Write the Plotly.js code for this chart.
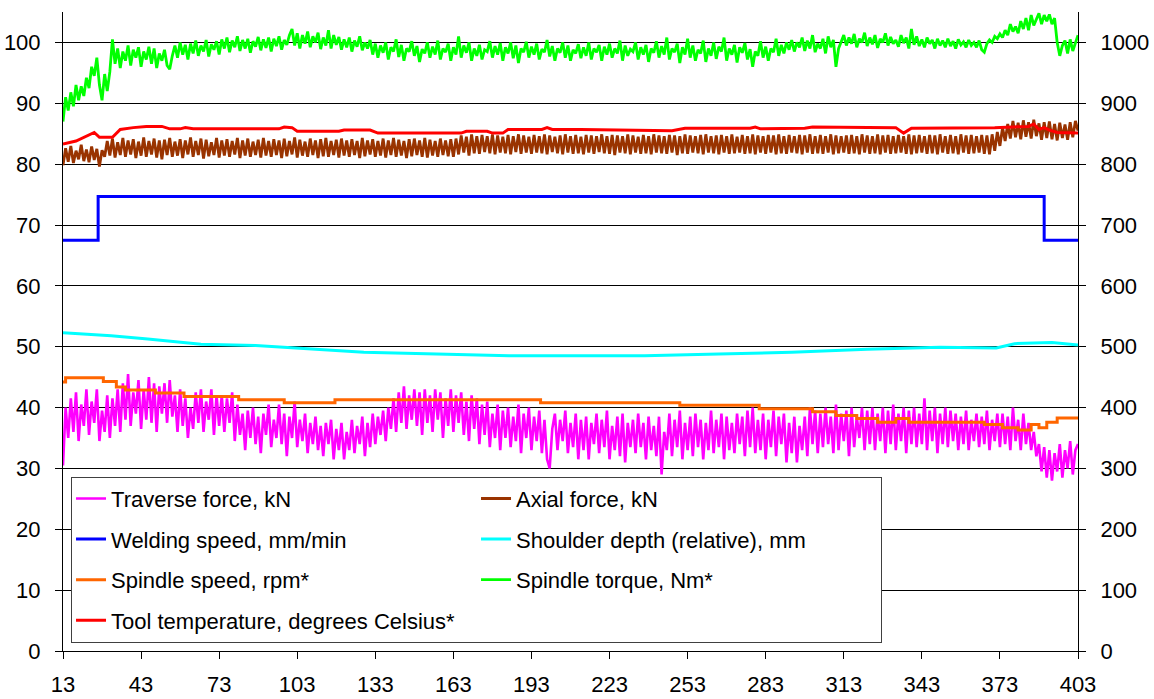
<!DOCTYPE html>
<html>
<head>
<meta charset="utf-8">
<script src="https://cdn.plot.ly/plotly-3.0.1.min.js"></script>
<style>html,body{margin:0;padding:0;background:#fff;}#chart{width:1154px;height:699px;}</style>
</head>
<body>
<div id="chart"></div>
<script>
// Category axis ticks (seconds)
const xTicks = [13, 43, 73, 103, 133, 163, 193, 223, 253, 283, 313, 343, 373, 403];

// Noisy series are sampled every 1 s from 13 to 403
const noisyStart = 13, noisyStep = 1;

// Traverse force, kN (left axis)
const traverseForce = [
  30.5, 40, 35, 41.5, 36, 42.5, 34.5, 40.5, 37, 43,
  35.5, 41, 37.5, 43, 34.5, 39.5, 36, 42, 35, 41.5,
  37, 43, 36, 44, 38, 45.5, 37, 42.5, 39, 44.5,
  36.5, 43, 38, 45, 37.5, 44, 36, 43.5, 39, 44,
  37.5, 44.5, 38.5, 42, 36, 43, 37, 41.5, 35, 40,
  36.5, 42.5, 37.5, 43, 36, 41, 38, 43, 35.5, 42,
  37, 42, 36, 41.5, 37.5, 42.5, 34.5, 40.5, 35.5, 39,
  33, 39.5, 35, 40, 34, 38.5, 32.5, 39, 35.5, 40.5,
  33.5, 38, 35, 40.5, 34, 39, 32, 38.5, 35, 41,
  33.5, 38, 34.5, 39, 32.5, 37.5, 34, 38.5, 33, 37,
  32, 37.5, 34, 38, 31.5, 36.5, 33, 37.5, 31.5, 36,
  33, 38, 32.5, 37, 34, 38.5, 32, 37.5, 33.5, 39,
  34, 38.5, 35.5, 39.5, 34.5, 40, 36.5, 41.5, 36, 42.5,
  37.5, 43.5, 36.5, 42, 38, 43, 37, 42.5, 35.5, 43,
  37.5, 42, 36, 43, 38, 42.5, 35, 41.5, 37, 43,
  36, 42, 37.5, 42.5, 35.5, 41, 34.5, 42, 36.5, 41.5,
  34, 40.5, 35.5, 41, 33.5, 39, 35, 40.5, 33, 39.5,
  35, 40, 33.5, 38.5, 34.5, 40.5, 32.5, 39, 35, 40,
  33, 38.5, 34.5, 39.5, 32.5, 38, 31.5, 30, 36.5, 39,
  33, 38, 34.5, 39.5, 32.5, 37.5, 33.5, 39, 31.5, 38,
  33, 38.5, 31.5, 37.5, 34, 39, 32.5, 38, 33.5, 39.5,
  31.5, 37, 33, 38.5, 32, 39, 31, 37.5, 33.5, 38,
  32.5, 39, 33.5, 37.5, 31.5, 38.5, 33, 37, 32, 38.5,
  29, 36, 33, 39, 32, 38, 33.5, 39.5, 31.5, 37.5,
  33, 38.5, 32, 39, 33.5, 38, 31.5, 37.5, 33, 39.5,
  32.5, 38, 33.5, 39, 31.5, 38.5, 33, 37.5, 32.5, 39,
  34, 38.5, 32, 39.5, 33.5, 40, 32.5, 38, 33, 39,
  31.5, 38, 33.5, 39.5, 32, 38.5, 34, 39, 31, 37.5,
  32.5, 38.5, 31, 37, 33, 38.5, 32, 40, 34, 39.5,
  32.5, 39, 33.5, 40, 34, 38.5, 32.5, 40.5, 33, 39,
  34.5, 39.5, 32, 40, 33.5, 38.5, 35, 40, 33, 39.5,
  34, 40, 33, 39, 34.5, 40, 32.5, 39.5, 34, 40.5,
  33, 39, 34.5, 40, 32.5, 39.5, 34, 40, 33.5, 39,
  34, 41.5, 33, 39.5, 34.5, 40, 32.5, 39, 34, 40,
  33.5, 39.5, 34.5, 39, 33, 38.5, 34, 39.5, 33, 38,
  34.5, 39, 33.5, 38.5, 34, 39.5, 33, 38, 34.5, 39,
  33.5, 39, 34, 38.5, 33, 40, 34.5, 38, 33, 39,
  34, 37.5, 33, 36, 32, 34, 29.5, 33.5, 28.5, 33,
  28, 32.5, 29.5, 34, 28.5, 33, 30, 34.5, 29, 33,
  34
];

// Axial force, kN (left axis)
const axialForce = [
  79.8, 82.6, 80.4, 83, 80.2, 82.2, 80.8, 83.2, 80.5, 82.4,
  80.3, 82.9, 80.7, 82.5, 79.6, 82.3, 81.2, 83.8, 81.4, 84.2,
  81.1, 83.6, 81.5, 84.3, 81.2, 83.9, 81.6, 84.1, 81.0, 83.7,
  81.4, 84.4, 81.2, 83.8, 81.6, 84.2, 81.1, 83.9, 80.8, 84.0,
  81.5, 84.3, 81.2, 83.7, 81.4, 84.1, 81.0, 83.9, 81.6, 84.4,
  81.2, 83.8, 81.5, 84.2, 80.9, 84.0, 81.3, 83.6, 81.5, 84.3,
  81.1, 83.9, 81.4, 84.1, 81.2, 83.8, 81.6, 84.3, 81.0, 83.9,
  81.4, 84.2, 81.2, 83.7, 81.5, 84.0, 81.1, 84.3, 81.4, 83.8,
  81.2, 84.1, 81.5, 83.9, 81.0, 84.2, 81.3, 83.8, 81.6, 84.4,
  81.1, 84.0, 81.4, 83.7, 81.2, 84.2, 81.5, 83.9, 81.0, 84.1,
  81.3, 84.3, 81.2, 83.8, 81.5, 84.0, 81.1, 84.2, 81.4, 83.9,
  81.2, 84.1, 81.5, 83.8, 81.0, 84.3, 81.3, 83.9, 81.6, 84.1,
  81.2, 83.8, 81.4, 84.2, 81.1, 83.9, 81.5, 84.3, 81.2, 84.0,
  81.4, 83.8, 81.0, 84.1, 81.3, 84.2, 81.5, 83.9, 81.2, 84.3,
  81.1, 84.0, 81.4, 83.8, 81.2, 84.2, 81.5, 83.9, 81.3, 84.1,
  81.2, 84.2, 81.6, 84.7, 81.9, 84.5, 81.4, 84.9, 81.8, 84.6,
  81.7, 84.8, 82.0, 84.6, 81.8, 84.9, 81.6, 84.7, 81.9, 84.5,
  81.8, 84.8, 81.6, 84.6, 82.0, 84.9, 81.7, 84.7, 81.9, 84.5,
  81.7, 84.8, 81.9, 84.6, 81.8, 84.9, 81.6, 84.7, 82.0, 84.5,
  81.8, 84.7, 81.6, 84.9, 81.9, 84.6, 81.7, 84.8, 81.8, 84.5,
  81.6, 84.8, 81.9, 84.7, 81.7, 84.6, 82.0, 84.9, 81.8, 84.6,
  81.7, 84.8, 81.5, 84.7, 81.9, 84.6, 81.8, 84.9, 81.6, 84.7,
  81.9, 84.5, 81.7, 84.8, 81.8, 84.6, 81.6, 84.9, 81.9, 84.7,
  81.8, 84.6, 81.7, 84.8, 81.9, 84.7, 81.5, 84.6, 81.8, 84.9,
  81.7, 84.7, 81.9, 84.6, 81.8, 84.8, 81.6, 84.9, 81.9, 84.6,
  81.8, 84.7, 81.6, 84.8, 81.9, 84.6, 81.7, 84.9, 81.8, 84.5,
  81.9, 84.8, 81.7, 84.6, 81.8, 84.9, 81.6, 84.7, 81.9, 84.6,
  81.7, 84.8, 81.9, 84.7, 81.6, 84.9, 81.8, 84.6, 81.7, 84.8,
  81.9, 84.6, 81.8, 84.8, 81.6, 84.7, 81.9, 84.9, 81.7, 84.6,
  81.8, 84.8, 81.7, 84.6, 81.9, 84.9, 81.6, 84.7, 81.8, 84.6,
  81.9, 84.7, 81.7, 84.8, 81.8, 84.6, 81.6, 84.9, 81.9, 84.7,
  81.7, 84.6, 81.8, 84.9, 81.6, 84.7, 81.9, 84.8, 81.7, 84.6,
  81.8, 84.8, 81.9, 84.6, 81.7, 84.9, 81.6, 84.7, 81.8, 84.8,
  81.9, 84.6, 81.7, 84.8, 81.8, 84.7, 81.6, 84.9, 81.9, 84.6,
  81.7, 84.8, 81.8, 84.6, 81.6, 84.9, 81.9, 84.7, 81.7, 84.8,
  81.8, 84.6, 81.9, 84.8, 81.7, 84.7, 81.6, 84.9, 82.2, 85.3,
  83.0, 86.0, 83.8, 86.6, 84.2, 87.1, 84.4, 86.8, 84.1, 87.2,
  84.5, 86.9, 84.2, 87.3, 84.6, 86.7, 84.0, 86.9, 84.3, 87.0,
  84.1, 86.6, 83.9, 86.8, 84.3, 86.5, 84.0, 86.9, 84.4, 87.1,
  85.5
];

// Spindle torque, Nm (right axis)
const spindleTorque = [
  870, 910, 888, 918, 895, 930, 905, 928, 912, 942,
  925, 960, 945, 975, 930, 905, 948, 920, 952, 1005,
  965, 990, 958, 985, 970, 995, 962, 988, 975, 992,
  960, 985, 972, 993, 965, 990, 958, 982, 970, 988,
  962, 956, 978, 995, 975, 1000, 980, 996, 972, 998,
  982, 1003, 978, 995, 985, 1004, 977, 997, 988, 1002,
  980, 1005, 990, 1008, 984, 1003, 992, 1010, 986, 1004,
  990, 1006, 983, 1002, 993, 1009, 987, 1005, 991, 1008,
  985, 1006, 994, 1010, 988, 1004, 996, 1012, 1022, 995,
  1015, 990, 1012, 998, 1018, 992, 1010, 1000, 1016, 989,
  1008, 995, 1020, 990, 1012, 996, 1009, 988, 1005, 992,
  1008, 985, 1003, 993, 1010, 987, 1000, 990, 1004, 980,
  998, 975, 995, 983, 1000, 972, 992, 985, 1005, 976,
  996, 970, 990, 985, 1002, 978, 994, 968, 989, 982,
  1000, 975, 993, 980, 1003, 972, 990, 984, 998, 970,
  992, 980, 1010, 975, 995, 983, 1000, 970, 990, 978,
  996, 972, 988, 985, 1002, 975, 994, 980, 999, 970,
  992, 982, 1000, 974, 995, 966, 990, 984, 1001, 975,
  993, 980, 998, 972, 989, 984, 1004, 977, 994, 970,
  990, 983, 1000, 975, 995, 970, 988, 982, 997, 974,
  992, 978, 1000, 972, 990, 984, 996, 970, 993, 980,
  998, 975, 990, 982, 1003, 970, 995, 978, 989, 985,
  1000, 972, 992, 980, 996, 968, 990, 983, 1002, 975,
  994, 980, 1008, 972, 990, 984, 998, 966, 992, 980,
  1006, 975, 995, 970, 988, 982, 1003, 968, 990, 978,
  1000, 973, 993, 985, 1008, 970, 990, 980, 996, 967,
  992, 983, 999, 972, 989, 960, 985, 978, 1002, 975,
  993, 970, 990, 984, 1006, 978, 996, 982, 1000, 988,
  1004, 985, 1000, 992, 1008, 986, 1003, 990, 1012, 984,
  998, 990, 1006, 982, 1010, 992, 1004, 960, 990, 1000,
  1012, 995, 1008, 998, 1014, 992, 1006, 1000, 1016, 994,
  1008, 997, 1012, 991, 1006, 1000, 1015, 995, 1009, 998,
  1004, 993, 1012, 999, 1008, 990, 1022, 996, 1010, 994,
  1005, 992, 1008, 998, 1004, 990, 1006, 995, 1003, 992,
  1006, 994, 1002, 990, 1005, 996, 1001, 992, 1004, 995,
  1000, 992, 1003, 988, 984, 998, 1004, 1000, 1010, 1006,
  1014, 1008, 1020, 1012, 1030, 1018, 1026, 1015, 1035, 1022,
  1040, 1020, 1045, 1028, 1038, 1048, 1030, 1045, 1035, 1046,
  1030, 1040, 1000, 978, 995, 1003, 982, 1005, 986, 1000,
  1012
];

// Welding speed, mm/min (left axis) - step changes
const weldX = [13, 26.5, 390, 403];
const weldY = [67.5, 74.7, 67.5, 67.5];

// Shoulder depth (relative), mm (left axis)
const shoulderX = [13, 31.5, 45.6, 66, 87, 108, 128.6, 156.6, 184.4, 208, 236.5, 265, 293, 322, 350, 371.6, 378.6, 393, 403];
const shoulderY = [52.3, 51.8, 51.25, 50.4, 50.2, 49.6, 49.1, 48.8, 48.5, 48.5, 48.5, 48.8, 49.1, 49.6, 49.9, 49.8, 50.5, 50.7, 50.3];

// Spindle speed, rpm (right axis) - step changes
const spindleX = [13, 14, 28.5, 33.5, 37, 48.5, 59.5, 80.5, 98, 117.5, 196.5, 250, 280.5, 301, 310, 318, 326, 333, 338, 367, 374, 380, 385, 388, 391, 395, 403];
const spindleY = [442, 449, 443, 434, 429, 424, 418, 413, 408, 413, 408, 404, 398, 393, 387, 382, 376, 382, 376, 372, 367, 363, 372, 367, 376, 383, 383];

// Tool temperature, degrees Celsius (right axis)
const tempX = [13, 18, 25, 27, 32, 35, 40, 45, 51, 54, 58, 60, 63, 80, 96, 98, 101, 103, 119, 121, 131, 134, 166, 168, 176, 178, 182, 184, 197, 199, 201, 212, 247, 252, 277, 279, 281, 298, 301, 333, 336, 339, 371, 384, 386, 388, 390, 392, 395, 403];
const tempY = [833, 838, 852, 844, 844, 857, 860, 862, 862, 858, 858, 860, 858, 858, 858, 861, 860, 854, 854, 856, 856, 851, 851, 854, 854, 851, 851, 857, 857, 860, 857, 857, 855, 859, 859, 861, 858, 859, 861, 860, 851, 859, 860, 862, 866, 857, 860, 856, 852, 851];

const seriesNames = [
  'Traverse force, kN', 'Axial force, kN', 'Welding speed, mm/min',
  'Shoulder depth (relative), mm', 'Spindle speed, rpm*', 'Spindle torque, Nm*',
  'Tool temperature, degrees Celsius*'
];
const seriesColors = ['#FF00FF', '#993300', '#0000FF', '#00FFFF', '#FF6600', '#00FF00', '#FF0000'];

const noisyX = traverseForce.map((_, i) => noisyStart + i * noisyStep);

function tr(i, x, y, axis, width, shape) {
  return {
    type: 'scatter', mode: 'lines', x: x, y: y, yaxis: axis,
    name: seriesNames[i], legendgroup: 'g' + i,
    line: {color: seriesColors[i], width: width, shape: shape || 'linear'},
    hoverinfo: 'x+y+name'
  };
}

const data = [
  tr(0, noisyX, traverseForce, 'y', 2.6),
  tr(1, noisyX, axialForce, 'y', 2.8),
  tr(2, weldX, weldY, 'y', 3, 'hv'),
  tr(3, shoulderX, shoulderY, 'y', 3),
  tr(4, spindleX, spindleY, 'y2', 3, 'hv'),
  tr(5, noisyX, spindleTorque, 'y2', 2.8),
  tr(6, tempX, tempY, 'y2', 3)
];

const fontFam = 'Liberation Sans, Arial, sans-serif';
const layout = {
  width: 1154, height: 699,
  margin: {l: 63, r: 76, t: 12, b: 48, pad: 0},
  paper_bgcolor: '#fff', plot_bgcolor: '#fff',
  font: {family: fontFam, size: 22, color: '#000'},
  showlegend: true,
  xaxis: {
    range: [13, 403], tickmode: 'array', tickvals: xTicks, ticktext: xTicks.map(String),
    ticks: 'outside', ticklen: 7, tickcolor: '#000', tickwidth: 1,
    showline: true, linecolor: '#000', linewidth: 1,
    showgrid: false, zeroline: false, ticklabelstandoff: 7,
    tickfont: {size: 22}
  },
  yaxis: {
    range: [0, 105], tick0: 0, dtick: 10,
    ticks: 'outside', ticklen: 7, tickcolor: '#000', tickwidth: 1,
    showline: true, linecolor: '#000', linewidth: 1,
    showgrid: true, gridcolor: '#000', gridwidth: 1, zeroline: false,
    ticklabelstandoff: 10, tickfont: {size: 22}
  },
  yaxis2: {
    range: [0, 1050], tick0: 0, dtick: 100, overlaying: 'y', side: 'right',
    ticks: 'outside', ticklen: 7, tickcolor: '#000', tickwidth: 1,
    showline: true, linecolor: '#000', linewidth: 1,
    showgrid: false, zeroline: false,
    ticklabelstandoff: 10, tickfont: {size: 22}
  },
  legend: {
    x: 0.0079, y: 0.2728, xanchor: 'left', yanchor: 'top',
    orientation: 'h', traceorder: 'grouped', tracegroupgap: 9,
    entrywidth: 360, entrywidthmode: 'pixels',
    bgcolor: '#fff', bordercolor: '#404040', borderwidth: 1,
    font: {family: fontFam, size: 22, color: '#000'}
  }
};

Plotly.newPlot('chart', data, layout, {displayModeBar: false, staticPlot: true});
</script>
</body>
</html>
